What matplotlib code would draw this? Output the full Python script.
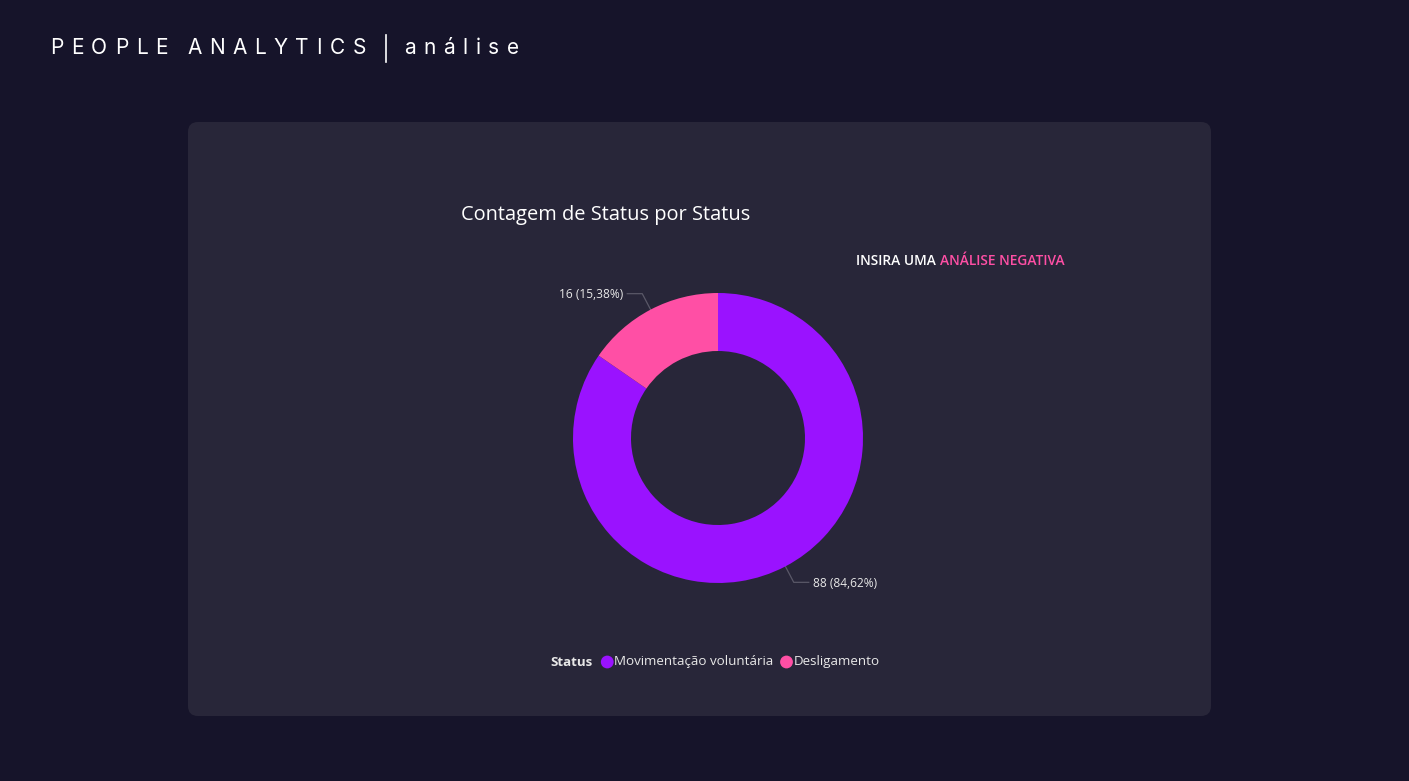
import numpy as np
import matplotlib
matplotlib.use("Agg")
import matplotlib.pyplot as plt
from matplotlib.patches import FancyBboxPatch

# ---- data ----
categories = ["Movimentação voluntária", "Desligamento"]
values = [88, 16]
colors = ["#9A12FF", "#FF4FA5"]
page_title = "PEOPLE ANALYTICS"
page_sub = "análise"
chart_title = "Contagem de Status por Status"
note_white = "INSIRA UMA "
note_pink = "ANÁLISE NEGATIVA"
legend_title = "Status"

W, H = 1409, 781
BG = "#16142A"
PANEL = "#282639"
TXT = "#FFFFFF"
LBL = "#E8E8E8"

fig = plt.figure(figsize=(W / 100, H / 100), dpi=100)
fig.patch.set_facecolor(BG)

# overlay axes in pixel coords (top-left origin)
ov = fig.add_axes([0, 0, 1, 1])
ov.set_xlim(0, W)
ov.set_ylim(H, 0)
ov.axis("off")

panel = FancyBboxPatch((188, 122), 1023, 594, boxstyle="round,pad=0,rounding_size=10",
                       fc=PANEL, ec="none")
ov.add_patch(panel)

fig.canvas.draw()
renderer = fig.canvas.get_renderer()


def text_width(s, **kw):
    t = ov.text(0, 0, s, **kw)
    bb = t.get_window_extent(renderer=renderer)
    t.remove()
    return bb.width


def spaced_text(x, y, s, spacing, space_w, **kw):
    for ch in s:
        if ch == " ":
            x += space_w
            continue
        ov.text(x, y, ch, ha="left", va="center", **kw)
        x += text_width(ch, **kw) + spacing
    return x


# page header with letter spacing
hkw = dict(fontsize=15, family="Inter", color=TXT, fontweight="normal")
spaced_text(50, 48, page_title, 7.6, 12, **hkw)
ov.plot([386, 386], [35, 62], color=TXT, lw=1.2)
spaced_text(404, 48, page_sub, 7.6, 12, **hkw)

# chart title
ov.text(461, 215, chart_title, ha="left", va="center", fontsize=14.4,
        family="Open Sans", color=TXT)

# note text
nkw = dict(fontsize=9.9, family="Open Sans", fontweight="semibold")
w1 = text_width(note_white, **nkw)
ov.text(856, 261, note_white, ha="left", va="center", color=TXT, **nkw)
ov.text(856 + w1, 261, note_pink, ha="left", va="center", color=colors[1], **nkw)

# donut
cx, cy, r = 718, 438, 145
pax = fig.add_axes([(cx - r - 5) / W, (H - cy - r - 5) / H, (2 * r + 10) / W, (2 * r + 10) / H])
pax.set_facecolor("none")
wedges, _ = pax.pie(values, colors=colors, startangle=90, counterclock=False,
                    radius=1.0, wedgeprops=dict(width=0.4, edgecolor="none"))
lim = 1.0 + 5 / r
pax.set_xlim(-lim, lim)
pax.set_ylim(-lim, lim)
pax.set_aspect("equal")
pax.axis("off")

# data labels with leader lines
total = sum(values)
for w, v in zip(wedges, values):
    ang = np.deg2rad((w.theta1 + w.theta2) / 2)
    px, py = cx + r * np.cos(ang), cy - r * np.sin(ang)
    ex, ey = cx + (r + 18) * np.cos(ang), cy - (r + 18) * np.sin(ang)
    side = 1 if np.cos(ang) > 0 else -1
    hx = ex + side * 15
    ov.plot([px, ex, hx], [py, ey, ey], color="#5A5868", lw=0.9)
    lab = f"{v} ({v / total * 100:.2f}%)".replace(".", ",")
    ov.text(hx + side * 4, ey + 1, lab, ha="left" if side > 0 else "right", va="center",
            fontsize=8.6, family="Open Sans", color=LBL)

# legend
lkw = dict(fontsize=9.6, family="Open Sans")
ly = 662
x = 550
ov.text(x, ly, legend_title, ha="left", va="center", color=LBL, fontweight="bold", **lkw)
x += text_width(legend_title, fontweight="bold", **lkw) + 9
for c, name in zip(colors, categories):
    ov.scatter([x + 6], [ly], s=85, color=c, edgecolors="none")
    x += 13
    ov.text(x, ly, name, ha="left", va="center", color=LBL, **lkw)
    x += text_width(name, **lkw) + 7

fig.savefig("out.png", dpi=100, facecolor=BG)
